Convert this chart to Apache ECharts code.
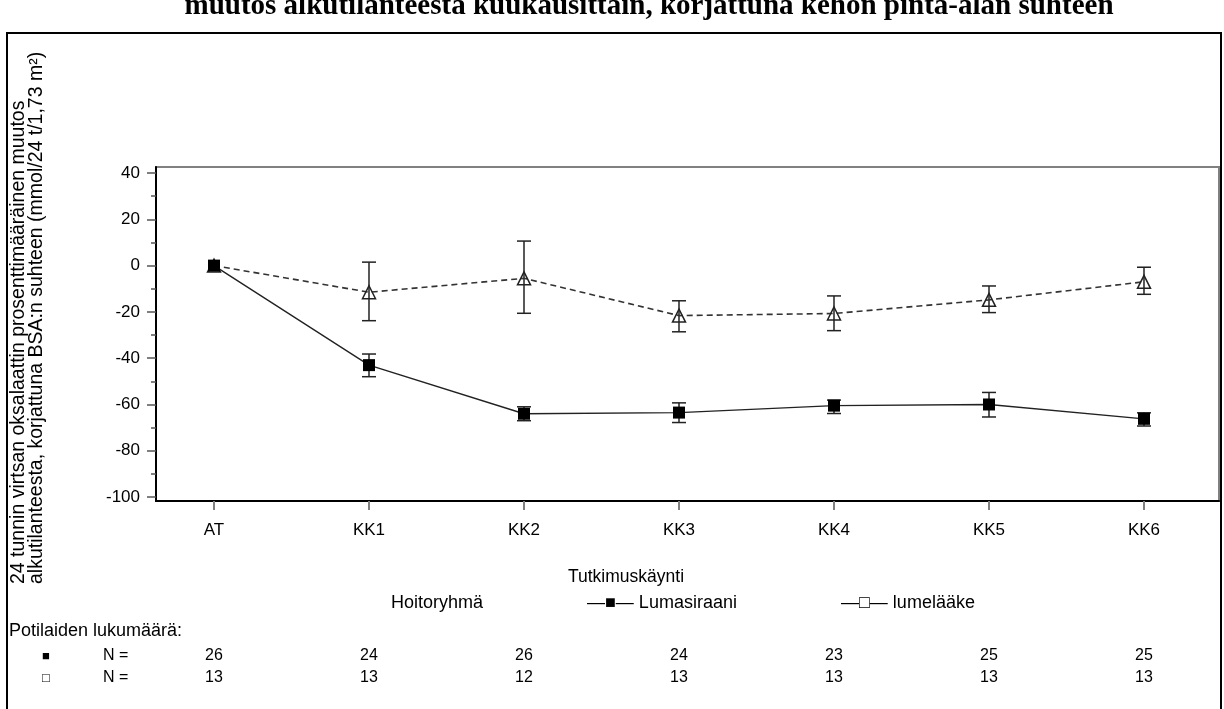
<!DOCTYPE html>
<html>
<head>
<meta charset="utf-8">
<script src="https://cdn.jsdelivr.net/npm/echarts@6/dist/echarts.min.js"></script>
<style>
html,body{margin:0;padding:0;background:#fff;}
#chart{width:1224px;height:709px;}
</style>
</head>
<body>
<div id="chart"></div>
<script>
const categories = ['AT', 'KK1', 'KK2', 'KK3', 'KK4', 'KK5', 'KK6'];
const yTicks = [-100, -80, -60, -40, -20, 0, 20, 40];
const yMinorTicks = [-90, -70, -50, -30, -10, 10, 30];

const lumaMean = [0, -43.0, -64.0, -63.5, -60.5, -60.0, -66.2];
const lumaLow  = [null, -48.0, -67.0, -67.8, -63.9, -65.4, -69.3];
const lumaHigh = [null, -38.2, -61.0, -59.3, -58.1, -54.8, -63.6];

const placMean = [0, -11.5, -5.5, -21.6, -20.7, -14.8, -7.0];
const placLow  = [null, -23.8, -20.6, -28.6, -28.1, -20.3, -12.4];
const placHigh = [null, 1.5, 10.6, -15.2, -13.1, -8.8, -0.7];

const nLuma = [26, 24, 26, 24, 23, 25, 25];
const nPlac = [13, 13, 12, 13, 13, 13, 13];

const titleText = 'muutos alkutilanteesta kuukausittain, korjattuna kehon pinta-alan suhteen';
const yTitle = '24 tunnin virtsan oksalaattin prosenttimääräinen muutos\nalkutilanteesta, korjattuna BSA:n suhteen (mmol/24 t/1,73 m²)';
const xTitle = 'Tutkimuskäynti';
const groupLabel = 'Hoitoryhmä';
const lumaName = 'Lumasiraani';
const placName = 'lumelääke';
const countLabel = 'Potilaiden lukumäärä:';

const FONT = '"Liberation Sans", Arial, sans-serif';

const chart = echarts.init(document.getElementById('chart'), null, {renderer: 'canvas'});

function errData(low, high) {
  const out = [];
  low.forEach((l, i) => { if (l !== null) out.push([i, l, high[i]]); });
  return out;
}

function errRender(params, api) {
  const x = api.value(0);
  const lo = api.coord([x, api.value(1)]);
  const hi = api.coord([x, api.value(2)]);
  const w = 7;
  const st = {stroke: '#222', lineWidth: 1.5};
  return {
    type: 'group',
    children: [
      {type: 'line', shape: {x1: lo[0], y1: lo[1], x2: hi[0], y2: hi[1]}, style: st},
      {type: 'line', shape: {x1: hi[0] - w, y1: hi[1], x2: hi[0] + w, y2: hi[1]}, style: st},
      {type: 'line', shape: {x1: lo[0] - w, y1: lo[1], x2: lo[0] + w, y2: lo[1]}, style: st}
    ]
  };
}

const option = {
  animation: false,
  backgroundColor: '#fff',
  grid: {
    left: 156, right: 5, top: 167, bottom: 208,
    show: true, borderColor: '#808080', borderWidth: 2, backgroundColor: 'transparent'
  },
  xAxis: {
    type: 'value',
    min: -0.3742, max: 6.4839,
    axisLine: {show: true, onZero: false, lineStyle: {color: '#000', width: 2}},
    axisTick: {show: true, customValues: categories.map((c, i) => i), length: 9, lineStyle: {color: '#808080', width: 2}},
    axisLabel: {
      customValues: categories.map((c, i) => i),
      formatter: v => categories[Math.round(v)],
      margin: 21, fontSize: 17, color: '#000', fontFamily: FONT
    },
    splitLine: {show: false}
  },
  yAxis: [
    {
      type: 'value', position: 'left',
      min: -101.7, max: 42.6,
      axisLine: {show: true, onZero: false, lineStyle: {color: '#000', width: 2}},
      axisTick: {show: true, customValues: yTicks, length: 9, lineStyle: {color: '#555', width: 1.5}},
      axisLabel: {customValues: yTicks, margin: 16, fontSize: 17, color: '#000', fontFamily: FONT},
      splitLine: {show: false}
    },
    {
      type: 'value', position: 'left', offset: 0,
      min: -101.7, max: 42.6,
      axisLine: {show: false, onZero: false},
      axisTick: {show: true, customValues: yMinorTicks, length: 5, lineStyle: {color: '#555', width: 1.5}},
      axisLabel: {show: false},
      splitLine: {show: false}
    }
  ],
  series: [
    {
      type: 'custom', name: placName + ' err',
      renderItem: errRender, data: errData(placLow, placHigh),
      encode: {x: 0, y: [1, 2]}, z: 2, silent: true
    },
    {
      type: 'line', name: placName,
      data: placMean.map((v, i) => [i, v]),
      symbol: 'triangle', symbolSize: [13, 13],
      lineStyle: {color: '#333', width: 1.6, type: [6, 4]},
      itemStyle: {color: 'rgba(0,0,0,0)', borderColor: '#222', borderWidth: 1.5},
      z: 3
    },
    {
      type: 'custom', name: lumaName + ' err',
      renderItem: errRender, data: errData(lumaLow, lumaHigh),
      encode: {x: 0, y: [1, 2]}, z: 4, silent: true
    },
    {
      type: 'line', name: lumaName,
      data: lumaMean.map((v, i) => [i, v]),
      symbol: 'rect', symbolSize: 12,
      lineStyle: {color: '#222', width: 1.4, type: 'solid'},
      itemStyle: {color: '#000', borderColor: '#000', borderWidth: 0},
      z: 5
    }
  ]
};

chart.setOption(option);

// Texts outside the plot, with x positions from the x axis scale
const xs = categories.map((c, i) => chart.convertToPixel({xAxisIndex: 0}, i));
const txt = (text, x, y, opts) => Object.assign({
  type: 'text', x: x, y: y,
  style: Object.assign({text: text, fontSize: 18, fontFamily: FONT, fill: '#000', textAlign: 'left', textVerticalAlign: 'middle'}, (opts && opts.style) || {})
}, opts && opts.el || {});

const graphics = [
  {type: 'rect', shape: {x: 7, y: 33, width: 1214, height: 700}, style: {fill: 'none', stroke: '#000', lineWidth: 2}, z: 100},
  txt(titleText, 649, 7, {style: {fontSize: 29, fontWeight: 'bold', fontFamily: '"Liberation Serif", "Times New Roman", serif', textAlign: 'center'}}),
  {type: 'text', x: 9, y: 584, rotation: Math.PI / 2,
   style: {text: yTitle, fontSize: 19.5, lineHeight: 18.5, fontFamily: FONT, fill: '#000', textAlign: 'left', textVerticalAlign: 'top'}},
  txt(xTitle, 626, 577, {style: {textAlign: 'center', fontSize: 17.5}}),
  txt(groupLabel, 391, 603),
  txt('—■— ' + lumaName, 587, 603),
  txt('—□— ' + placName, 841, 603),
  txt(countLabel, 9, 631),
  txt('■', 42, 656, {style: {fontSize: 13}}),
  txt('N =', 103, 656, {style: {fontSize: 16}}),
  txt('□', 42, 678, {style: {fontSize: 13}}),
  txt('N =', 103, 678, {style: {fontSize: 16}})
];
xs.forEach((x, i) => {
  graphics.push(txt(String(nLuma[i]), x, 656, {style: {fontSize: 16, textAlign: 'center'}}));
  graphics.push(txt(String(nPlac[i]), x, 678, {style: {fontSize: 16, textAlign: 'center'}}));
});
chart.setOption({graphic: graphics});
</script>
</body>
</html>
